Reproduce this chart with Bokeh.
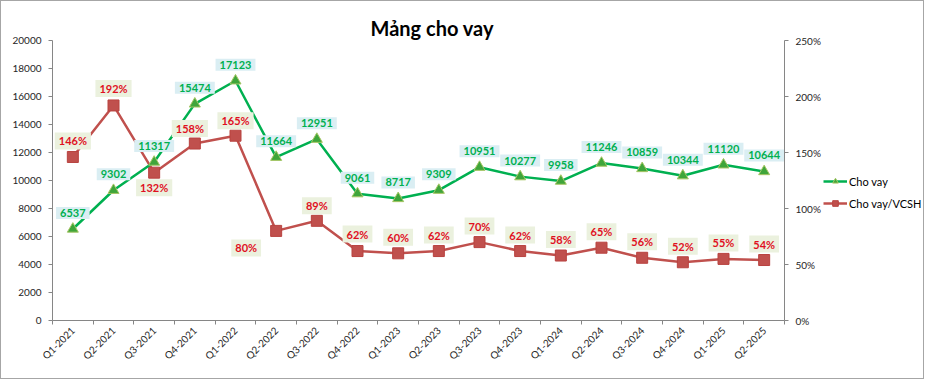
import math
from bokeh.plotting import figure
from bokeh.layouts import row
from bokeh.models import (ColumnDataSource, Range1d, LinearAxis, FixedTicker,
                          NumeralTickFormatter, Legend, LegendItem)
from bokeh.core.properties import value
from bokeh.embed import file_html
from bokeh.resources import INLINE

# ---- data ----
categories = ["Q1-2021", "Q2-2021", "Q3-2021", "Q4-2021", "Q1-2022", "Q2-2022",
              "Q3-2022", "Q4-2022", "Q1-2023", "Q2-2023", "Q3-2023", "Q4-2023",
              "Q1-2024", "Q2-2024", "Q3-2024", "Q4-2024", "Q1-2025", "Q2-2025"]
cho_vay = [6537, 9302, 11317, 15474, 17123, 11664, 12951, 9061, 8717, 9309,
           10951, 10277, 9958, 11246, 10859, 10344, 11120, 10644]
cho_vay_vcsh = [1.46, 1.92, 1.32, 1.58, 1.65, 0.80, 0.89, 0.62, 0.60, 0.62,
                0.70, 0.62, 0.58, 0.65, 0.56, 0.52, 0.55, 0.54]
left_ticks = [0, 2000, 4000, 6000, 8000, 10000, 12000, 14000, 16000, 18000, 20000]
right_ticks = [0, 0.5, 1.0, 1.5, 2.0, 2.5]
series_names = ["Cho vay", "Cho vay/VCSH"]

# ---- label placement (style, screen px; negative dy = up) ----
green_dx = [0] * len(categories)
green_dy = [-16] * len(categories)
red_dx = [0, 0, 0, -5, 0, -30, 0, 0, 0, 0, 0, 0, 0, 0, 0, 0, 0, 0]
red_dy = [-16, -17, 15, -15, -15, 17, -15, -17, -16, -16, -16, -16, -16, -16, -16, -16, -16, -16]

n = len(categories)
xs = [i + 0.5 for i in range(n)]

src_g = ColumnDataSource(dict(x=xs, y=cho_vay, lbl=[str(v) for v in cho_vay],
                              dx=green_dx, dy=green_dy))
src_r = ColumnDataSource(dict(x=xs, y=cho_vay_vcsh,
                              lbl=[f"{round(v * 100)}%" for v in cho_vay_vcsh],
                              dx=red_dx, dy=red_dy))

FONT = "Lato"
AX = "#868686"
TXT = "#262626"
GREEN = "#00B050"
RED = "#C0504D"
H = 377

p = figure(width=822, height=H, output_backend="svg", toolbar_location=None,
           x_range=Range1d(0, n), y_range=Range1d(0, 20000),
           min_border_left=51, min_border_right=35, min_border_top=39,
           min_border_bottom=58, x_axis_type=None, y_axis_type=None)
p.extra_y_ranges = {"pct": Range1d(0, 2.5)}
p.outline_line_color = None
p.xgrid.visible = False
p.ygrid.visible = False
p.background_fill_color = "white"
p.border_fill_color = "white"

p.title.text = "Mảng cho vay"
p.title.text_font = FONT
p.title.text_font_size = "20px"
p.title.text_font_style = "bold"
p.title.align = "left"
p.title.offset = 318
p.title.standoff = 2
p.title.text_color = "black"


def style_axis(ax):
    ax.axis_line_color = AX
    ax.major_tick_line_color = AX
    ax.minor_tick_line_color = None
    ax.major_tick_in = 0
    ax.major_tick_out = 4
    ax.major_label_text_font = FONT
    ax.major_label_text_font_size = "10px"
    ax.major_label_text_color = TXT
    ax.major_label_standoff = 7


yl = LinearAxis(ticker=FixedTicker(ticks=left_ticks), formatter=NumeralTickFormatter(format="0"))
style_axis(yl)
p.add_layout(yl, "left")

yr = LinearAxis(y_range_name="pct", ticker=FixedTicker(ticks=right_ticks),
                formatter=NumeralTickFormatter(format="0%"))
style_axis(yr)
p.add_layout(yr, "right")

# x axis: labels at category centres, (minor) ticks between categories
xa = LinearAxis(ticker=FixedTicker(ticks=xs, minor_ticks=list(range(n + 1))))
style_axis(xa)
xa.major_tick_line_color = None
xa.major_tick_out = 0
xa.minor_tick_line_color = AX
xa.minor_tick_in = 0
xa.minor_tick_out = 4
xa.major_label_standoff = 4
xa.major_label_orientation = math.pi / 4
xa.major_label_overrides = {x: c for x, c in zip(xs, categories)}
p.add_layout(xa, "below")

# series
line_kw_r = dict(line_color=RED, line_width=2.5)
mark_kw_r = dict(marker="square", size=11, fill_color=RED, line_color="#B8423F")
line_kw_g = dict(line_color=GREEN, line_width=2.5)
mark_kw_g = dict(marker="triangle", size=11, fill_color="#3FA53A", line_color="#A5C563")

p.line("x", "y", source=src_r, y_range_name="pct", **line_kw_r)
p.scatter("x", "y", source=src_r, y_range_name="pct", **mark_kw_r)
p.line("x", "y", source=src_g, **line_kw_g)
p.scatter("x", "y", source=src_g, **mark_kw_g)

p.text("x", "y", text="lbl", source=src_g, x_offset="dx", y_offset="dy",
       text_align="center", text_baseline="middle", text_font=value(FONT),
       text_font_size="11px", text_font_style="bold", text_color=GREEN,
       background_fill_color="#DAEEF3", padding=[4, 2])
p.text("x", "y", text="lbl", source=src_r, y_range_name="pct", x_offset="dx", y_offset="dy",
       text_align="center", text_baseline="middle", text_font=value(FONT),
       text_font_size="11px", text_font_style="bold", text_color="#E0101E",
       background_fill_color="#EBF1DE", padding=[4, 2])

# ---- legend panel (separate figure to the right of the secondary axis) ----
# The same series are drawn here, outside this panel's visible range, so that
# only their legend entries show.
q = figure(width=100, height=H, output_backend="svg", toolbar_location=None,
           x_range=Range1d(1000, 1001), y_range=Range1d(0, 1),
           min_border_left=0, min_border_right=0, min_border_top=0,
           min_border_bottom=0, x_axis_type=None, y_axis_type=None)
q.outline_line_color = None
q.xgrid.visible = False
q.ygrid.visible = False
q.border_fill_color = "white"
lg_gl = q.line("x", "y", source=src_g, **line_kw_g)
lg_gm = q.scatter("x", "y", source=src_g, **mark_kw_g)
lg_rl = q.line("x", "y", source=src_r, **line_kw_r)
lg_rm = q.scatter("x", "y", source=src_r, **mark_kw_r)

legend = Legend(items=[LegendItem(label=series_names[0], renderers=[lg_gl, lg_gm]),
                       LegendItem(label=series_names[1], renderers=[lg_rl, lg_rm])],
                location=(0, 110), label_text_font=FONT, label_text_font_size="11px",
                label_text_color="black", glyph_width=24, glyph_height=14,
                label_height=14, spacing=8, padding=2, margin=0,
                border_line_color=None, background_fill_alpha=0,
                label_standoff=2)
q.add_layout(legend, "center")

layout = row(p, q, spacing=0, styles={"border": "1px solid #a6a6a6"})

open("out.html", "w").write(file_html(layout, INLINE))
